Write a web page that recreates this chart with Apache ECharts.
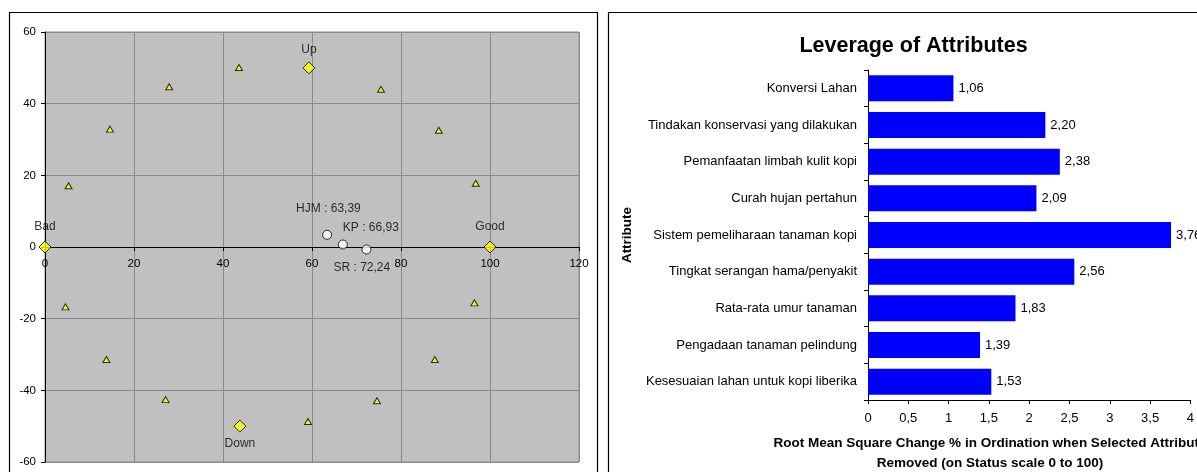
<!DOCTYPE html>
<html><head><meta charset="utf-8">
<script src="https://cdn.jsdelivr.net/npm/echarts@6/dist/echarts.min.js"></script>
<style>html,body{margin:0;padding:0;background:#fff}#c{width:1197px;height:472px}</style>
</head><body><div id="c"></div>
<script>
// ---- Left chart (RAPFISH ordination) ----
const anchorNames = ['Bad', 'Good', 'Up', 'Down'];
const anchorX = [0, 100, 59.3, 43.8];
const anchorY = [0, 0, 50, -50];
const refX = [5.3, 14.6, 27.9, 43.6, 75.5, 88.5, 96.8, 4.6, 13.8, 27.1, 59.1, 74.6, 87.6, 96.5];
const refY = [17.1, 32.9, 44.7, 50.1, 44.0, 32.6, 17.8, -16.7, -31.4, -42.6, -48.7, -42.9, -31.4, -15.6];
const statusNames = ['HJM : 63,39', 'KP : 66,93', 'SR : 72,24'];
const statusX = [63.39, 66.93, 72.24];
const statusY = [3.4, 0.7, -0.7];
const xTicks = [0, 20, 40, 60, 80, 100, 120];
const yTicks = [-60, -40, -20, 0, 20, 40, 60];

// ---- Right chart (leverage) ----
const attributes = ['Konversi Lahan', 'Tindakan konservasi yang dilakukan', 'Pemanfaatan limbah kulit kopi',
  'Curah hujan pertahun', 'Sistem pemeliharaan tanaman kopi', 'Tingkat serangan hama/penyakit',
  'Rata-rata umur tanaman', 'Pengadaan tanaman pelindung', 'Kesesuaian lahan untuk kopi liberika'];
const leverage = [1.06, 2.20, 2.38, 2.09, 3.76, 2.56, 1.83, 1.39, 1.53];
const levTicks = [0, 0.5, 1, 1.5, 2, 2.5, 3, 3.5, 4];

const FONT = 'Liberation Sans, Arial, sans-serif';
const chart = echarts.init(document.getElementById('c'), null, {renderer: 'canvas'});
const anchorLabel = {
  'Bad': {position: 'top', distance: 8},
  'Good': {position: 'top', distance: 8},
  'Up': {position: 'top', distance: 6},
  'Down': {position: 'bottom', distance: 5}
};
const statusLabel = [
  {position: [-26, -27]},
  {position: [5, -18]},
  {position: [-28, 17]}
];
const comma = v => String(v).replace('.', ',');
const GRID_H = 430;

chart.setOption({
  animation: false,
  textStyle: {fontFamily: FONT},
  title: {
    text: 'Leverage of Attributes', left: 908.5, top: 30, textAlign: 'center',
    textStyle: {fontSize: 21.5, fontWeight: 'bold', color: '#000', fontFamily: FONT}
  },
  graphic: [
    {type: 'rect', shape: {x: 9.5, y: 12.5, width: 588, height: 480}, style: {fill: 'none', stroke: '#000', lineWidth: 1.2}, z: -10},
    {type: 'rect', shape: {x: 608.5, y: 12.5, width: 620, height: 480}, style: {fill: 'none', stroke: '#000', lineWidth: 1.2}, z: -10},
    {type: 'text', x: 990, y: 433, style: {text: 'Root Mean Square Change % in Ordination when Selected Attribute\nRemoved (on Status scale 0 to 100)', textAlign: 'center', textVerticalAlign: 'top', font: 'bold 13.5px ' + FONT, fill: '#000', lineHeight: 20}},
    {type: 'text', x: 627, y: 235, rotation: Math.PI / 2, style: {text: 'Attribute', textAlign: 'center', textVerticalAlign: 'middle', font: 'bold 13.5px ' + FONT, fill: '#000'}}
  ],
  grid: [
    {left: 45, top: 32, width: 534, height: GRID_H, show: true, backgroundColor: '#C0C0C0', borderColor: '#8a8a8a', borderWidth: 1},
    {left: 868, top: 70, width: 323, height: 330}
  ],
  xAxis: [
    {gridIndex: 0, type: 'value', min: 0, max: 120, interval: 20, position: 'bottom', offset: -GRID_H / 2,
      axisLine: {onZero: false, lineStyle: {color: '#000', width: 1}},
      axisTick: {show: true, length: 4, lineStyle: {color: '#000'}},
      axisLabel: {fontSize: 11.5, color: '#000', margin: 11},
      splitLine: {show: true, lineStyle: {color: '#8a8a8a', width: 1}}},
    {gridIndex: 1, type: 'value', min: 0, max: 4, interval: 0.5,
      axisLine: {show: true, lineStyle: {color: '#000'}},
      axisTick: {show: true, length: 4, lineStyle: {color: '#000'}},
      axisLabel: {fontSize: 13, color: '#000', margin: 12, formatter: v => comma(v)},
      splitLine: {show: false}}
  ],
  yAxis: [
    {gridIndex: 0, type: 'value', min: -60, max: 60, interval: 20,
      axisLine: {onZero: false, lineStyle: {color: '#000', width: 1}},
      axisTick: {show: true, length: 4, lineStyle: {color: '#000'}},
      axisLabel: {fontSize: 11.5, color: '#000', margin: 9},
      splitLine: {show: true, lineStyle: {color: '#8a8a8a', width: 1}}},
    {gridIndex: 1, type: 'category', data: attributes, inverse: true,
      axisLine: {show: true, lineStyle: {color: '#000'}},
      axisTick: {show: true, length: 4, lineStyle: {color: '#000'}},
      axisLabel: {fontSize: 13, color: '#000', margin: 11}}
  ],
  series: [
    {type: 'scatter', xAxisIndex: 0, yAxisIndex: 0, symbol: 'triangle', symbolSize: [7, 6],
      itemStyle: {color: '#FFFF00', borderColor: '#000', borderWidth: 1},
      data: refX.map((x, i) => [x, refY[i]]), z: 3},
    {type: 'scatter', xAxisIndex: 0, yAxisIndex: 0, symbol: 'diamond', symbolSize: 12,
      itemStyle: {color: '#FFFF00', borderColor: '#000', borderWidth: 1},
      data: anchorX.map((x, i) => ({value: [x, anchorY[i]], name: anchorNames[i],
        label: Object.assign({show: true, formatter: anchorNames[i], fontSize: 12, color: '#000'}, anchorLabel[anchorNames[i]])})), z: 4},
    {type: 'scatter', xAxisIndex: 0, yAxisIndex: 0, symbol: 'circle', symbolSize: 9,
      itemStyle: {color: '#FFFFFF', borderColor: '#000', borderWidth: 1},
      data: statusX.map((x, i) => ({value: [x, statusY[i]],
        label: Object.assign({show: true, formatter: statusNames[i], fontSize: 12, color: '#000'}, statusLabel[i])})), z: 5},
    {type: 'bar', xAxisIndex: 1, yAxisIndex: 1, data: leverage, barCategoryGap: '29%',
      itemStyle: {color: '#0000FF'},
      label: {show: true, position: 'right', distance: 5, fontSize: 13, color: '#000', formatter: p => comma(p.value.toFixed(2))}}
  ]
});
</script></body></html>
